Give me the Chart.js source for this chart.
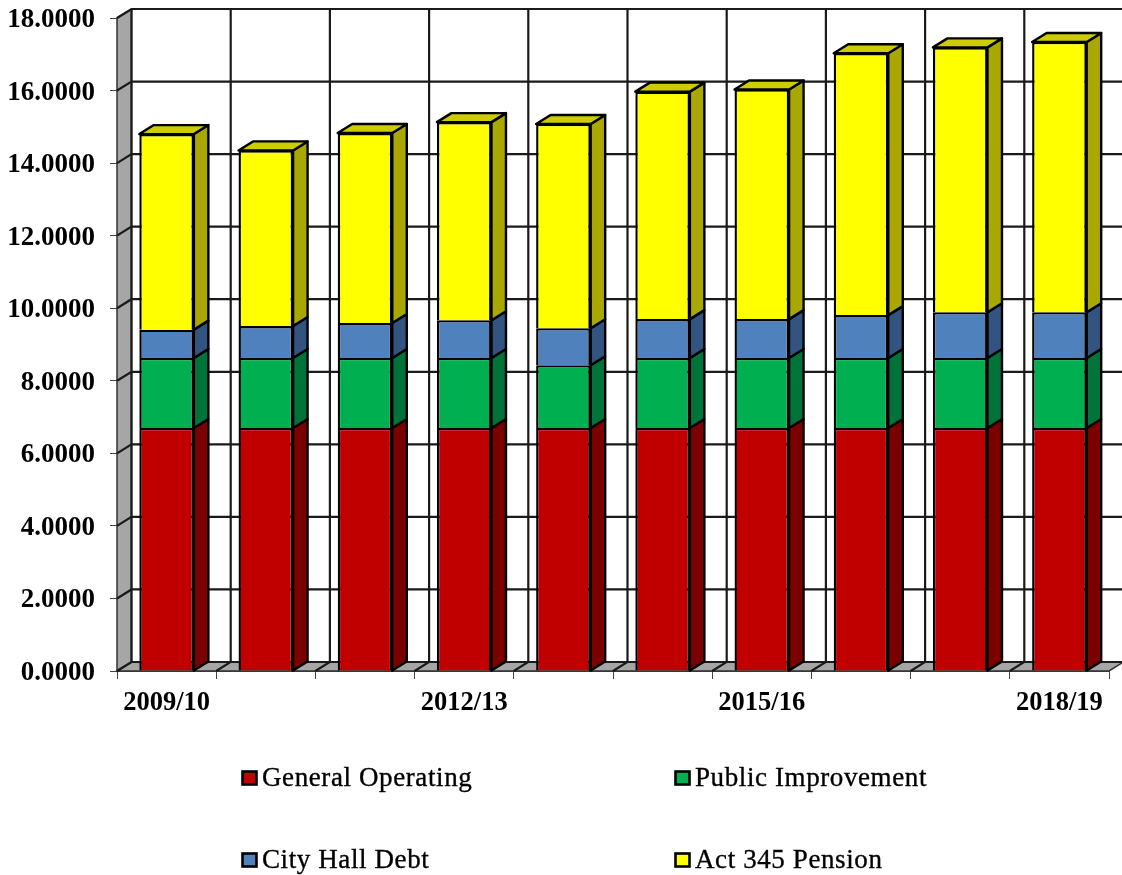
<!DOCTYPE html>
<html><head><meta charset="utf-8">
<style>html,body{margin:0;padding:0;background:#fff}canvas{display:block}</style>
<script src="https://cdn.jsdelivr.net/npm/chart.js@4"></script>
</head><body>
<canvas id="c" width="1122" height="875"></canvas>
<script>
const categories = ['2009/10','2010/11','2011/12','2012/13','2013/14','2014/15','2015/16','2016/17','2017/18','2018/19'];
const generalOperating = [6.70,6.70,6.70,6.70,6.70,6.70,6.70,6.70,6.70,6.70];
const publicImprovement = [1.93,1.93,1.93,1.93,1.73,1.93,1.93,1.93,1.93,1.93];
const cityHallDebt = [0.78,0.88,0.96,1.04,1.02,1.07,1.07,1.18,1.26,1.26];
const act345Pension = [5.39,4.84,5.24,5.46,5.63,6.27,6.33,7.22,7.30,7.45];
const seriesNames = ['General Operating','Public Improvement','City Hall Debt','Act 345 Pension'];
const seriesColors = ['#C00000','#00B050','#4F81BD','#FFFF00'];
const sideColors = ['#7B0000','#00733A','#335481','#A8A800'];
const topColor = '#CCCC00';
const DX = 14.5, DY = 9;

const depth3d = {
  id:'depth3d',
  beforeDatasetsDraw(chart){
    const {ctx,scales:{x,y},chartArea:a} = chart;
    const y0 = y.getPixelForValue(0), yT = y.getPixelForValue(18);
    ctx.save();
    ctx.fillStyle='#A6A6A6';
    ctx.strokeStyle='#333';
    ctx.lineWidth=1.5;
    ctx.beginPath();ctx.moveTo(a.left,yT);ctx.lineTo(a.left+DX,yT-DY);ctx.lineTo(a.left+DX,y0-DY);ctx.lineTo(a.left,y0);ctx.closePath();ctx.fill();ctx.stroke();
    ctx.beginPath();ctx.moveTo(a.left,y0);ctx.lineTo(a.left+DX,y0-DY);ctx.lineTo(a.right+DX,y0-DY);ctx.lineTo(a.right,y0);ctx.closePath();ctx.fill();ctx.stroke();
    ctx.strokeStyle='#1a1a1a';ctx.lineWidth=2.2;
    y.ticks.forEach(t=>{
      const py=y.getPixelForValue(t.value);
      ctx.beginPath();ctx.moveTo(a.left,py);ctx.lineTo(a.left+DX,py-DY);
      ctx.lineTo(a.right+DX,py-DY);ctx.stroke();
    });
    const step=(a.right-a.left)/categories.length;
    for(let i=0;i<categories.length;i++){
      const px=a.left+step*i;
      ctx.beginPath();ctx.moveTo(px+DX,yT-DY);ctx.lineTo(px+DX,y0-DY);
      if(i>0)ctx.lineTo(px,y0);
      ctx.stroke();
    }
    ctx.restore();
  },
  afterDatasetsDraw(chart){
    const {ctx}=chart;
    const n=chart.data.datasets.length;
    ctx.save();
    ctx.lineWidth=2.4;ctx.strokeStyle='#000';ctx.lineJoin='round';
    chart.data.datasets.forEach((ds,di)=>{
      chart.getDatasetMeta(di).data.forEach(b=>{
        const r=b.x+b.width/2, l=b.x-b.width/2, t=b.y, bt=b.base;
        ctx.fillStyle=sideColors[di];
        ctx.beginPath();ctx.moveTo(r,t);ctx.lineTo(r+DX,t-DY);ctx.lineTo(r+DX,bt-DY);ctx.lineTo(r,bt);ctx.closePath();ctx.fill();ctx.stroke();
        if(di===n-1){
          ctx.fillStyle=topColor;
          ctx.beginPath();ctx.moveTo(l,t);ctx.lineTo(l+DX,t-DY);ctx.lineTo(r+DX,t-DY);ctx.lineTo(r,t);ctx.closePath();ctx.fill();ctx.stroke();
        }
      });
    });
    ctx.restore();
  },
  afterDraw(chart){
    const {ctx}=chart;
    const pos=[[241,778],[674,778],[241,860],[674,860]];
    ctx.save();
    ctx.font='27px "Liberation Serif"';
    ctx.letterSpacing='0.6px';
    ctx.textBaseline='alphabetic';ctx.textAlign='left';
    chart.data.datasets.forEach((ds,i)=>{
      const [px,py]=pos[i];
      ctx.fillStyle=ds.backgroundColor;ctx.strokeStyle='#000';ctx.lineWidth=2.6;
      ctx.fillRect(px+1.5,py-6.5,14,13);ctx.strokeRect(px+1.5,py-6.5,14,13);
      ctx.fillStyle='#000';ctx.strokeStyle='#000';ctx.lineWidth=0.35;
      ctx.fillText(ds.label,px+21,py+8);
      ctx.strokeText(ds.label,px+21,py+8);
    });
    ctx.restore();
  }
};

new Chart(document.getElementById('c'),{
  type:'bar',
  data:{labels:categories,datasets:[generalOperating,publicImprovement,cityHallDebt,act345Pension].map((d,i)=>({
    label:seriesNames[i],data:d,backgroundColor:seriesColors[i],borderColor:'#000',borderWidth:2.4,
    barPercentage:0.55,categoryPercentage:1
  }))},
  plugins:[depth3d],
  options:{
    responsive:false,animation:false,
    layout:{padding:{left:0,top:18,right:13,bottom:104}},
    plugins:{legend:{display:false},title:{display:false},tooltip:{enabled:false}},
    scales:{
      x:{stacked:true,offset:true,
        grid:{display:true,drawOnChartArea:false,drawTicks:true,tickLength:8,color:'#444',lineWidth:1},
        border:{display:true,color:'#444',width:1},
        afterFit(s){s.height=100;s.paddingLeft=0;s.paddingRight=0},
        ticks:{autoSkip:false,maxRotation:0,padding:8,color:'#000',font:{family:'Liberation Serif',size:26.5,weight:'bold'},
          callback(v,i){return i%3===0?categories[i]:''}}
      },
      y:{stacked:true,min:0,max:18,
        grid:{display:true,drawOnChartArea:false,drawTicks:true,tickLength:7,color:'#444',lineWidth:1},
        border:{display:true,color:'#333',width:1},
        afterFit(s){s.width=117;s.paddingTop=0;s.paddingBottom=0},
        ticks:{stepSize:2,padding:15,labelOffset:2,color:'#000',font:{family:'Liberation Serif',size:27,weight:'bold'},
          callback(v){return Number(v).toFixed(4)}}
      }
    }
  }
});
</script>
</body></html>
